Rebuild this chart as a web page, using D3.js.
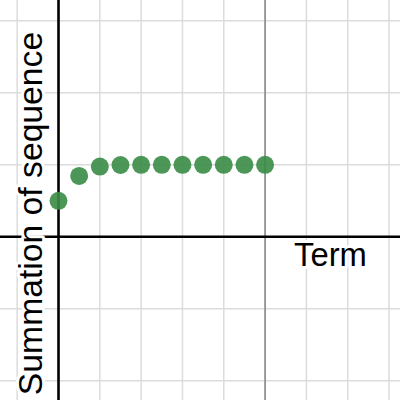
<!DOCTYPE html>
<html>
<head>
<meta charset="utf-8">
<script src="https://cdn.jsdelivr.net/npm/d3@7"></script>
<style>
  html, body { margin: 0; padding: 0; background: #fff; }
  svg { display: block; }
</style>
</head>
<body>
<svg id="chart" width="400" height="400"></svg>
<script>
// Data
const terms = [0, 1, 2, 3, 4, 5, 6, 7, 8, 9, 10];
const sums = [0.5, 0.845, 0.975, 0.997, 1, 1, 1, 1, 1, 1, 1];
const xGridTicks = [-2, 0, 2, 4, 6, 8, 10, 12, 14, 16];
const yGridTicks = [-2, -1, 0, 1, 2, 3];
const markerLineX = [10];
const xLabel = "Term";
const yLabel = "Summation of sequence";

const W = 400, H = 400;
const x = d3.scaleLinear().domain([-2.832, 16.53]).range([0, W]);
const y = d3.scaleLinear().domain([-2.267, 3.289]).range([H, 0]);

const svg = d3.select("#chart");

// grid
const grid = svg.append("g");
grid.selectAll("line.vx").data(xGridTicks.filter(d => d !== 0)).join("line")
  .attr("x1", d => x(d)).attr("x2", d => x(d))
  .attr("y1", 0).attr("y2", H)
  .attr("stroke", "#dcdcdc").attr("stroke-width", 1.5);
grid.selectAll("line.hy").data(yGridTicks.filter(d => d !== 0)).join("line")
  .attr("x1", 0).attr("x2", W)
  .attr("y1", d => y(d)).attr("y2", d => y(d))
  .attr("stroke", "#dcdcdc").attr("stroke-width", 1.5);

// dark vertical line at x=10
svg.selectAll("line.mk").data(markerLineX).join("line")
  .attr("x1", d => x(d)).attr("x2", d => x(d))
  .attr("y1", 0).attr("y2", H)
  .attr("stroke", "#8a8a8a").attr("stroke-width", 1.6);

// axes
svg.append("line").attr("x1", 0).attr("x2", W).attr("y1", y(0)).attr("y2", y(0))
  .attr("stroke", "#000").attr("stroke-width", 2.6);
svg.append("line").attr("x1", x(0)).attr("x2", x(0)).attr("y1", 0).attr("y2", H)
  .attr("stroke", "#000").attr("stroke-width", 2.6);

// labels with white halo
svg.append("text")
  .attr("x", 294).attr("y", 266)
  .attr("font-family", "Liberation Sans, Arial, sans-serif")
  .attr("font-size", 32.8)
  .attr("fill", "#000")
  .attr("stroke", "#fff").attr("stroke-width", 6).attr("stroke-linejoin", "round")
  .attr("paint-order", "stroke")
  .text(xLabel);

svg.append("text")
  .attr("transform", "translate(42,213.5) rotate(-90)")
  .attr("text-anchor", "middle")
  .attr("font-family", "Liberation Sans, Arial, sans-serif")
  .attr("font-size", 33.7)
  .attr("fill", "#000")
  .attr("stroke", "#fff").attr("stroke-width", 6).attr("stroke-linejoin", "round")
  .attr("paint-order", "stroke")
  .text(yLabel);

// points
svg.append("g").selectAll("circle").data(terms.map((t, i) => ({t, s: sums[i]}))).join("circle")
  .attr("cx", d => x(d.t)).attr("cy", d => y(d.s))
  .attr("r", 9)
  .attr("fill", "#388c46").attr("fill-opacity", 0.9);
</script>
</body>
</html>
